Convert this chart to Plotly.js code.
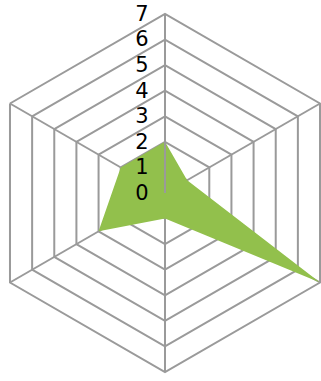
<!DOCTYPE html>
<html>
<head>
<meta charset="utf-8">
<script src="https://cdn.plot.ly/plotly-3.0.1.min.js"></script>
<style>
html,body{margin:0;padding:0;overflow:hidden;width:321px;height:381px;background:#fff;}
#chart{position:absolute;left:-44px;top:-16px;}
</style>
</head>
<body>
<div id="chart"></div>
<script>
const categories = ["A", "B", "C", "D", "E", "F"];
const values = [2, 1, 7, 1, 3, 2];
const tickValues = [0, 1, 2, 3, 4, 5, 6, 7];
const tickLabels = ["0", "1", "2", "3", "4", "5", "6", "7"];

const R = 179, M = 30;
const trace = {
  type: "scatterpolar",
  r: values.concat([values[0]]),
  theta: categories.concat([categories[0]]),
  fill: "toself",
  fillcolor: "#92c04c",
  line: {color: "#92c04c", width: 0},
  mode: "lines",
  hoverinfo: "skip"
};
const layout = {
  width: 2 * R + 2 * M,
  height: 2 * R + 2 * M,
  margin: {l: M, r: M, t: M, b: M, pad: 0},
  paper_bgcolor: "rgba(0,0,0,0)",
  plot_bgcolor: "rgba(0,0,0,0)",
  showlegend: false,
  font: {family: "DejaVu Sans", size: 20, color: "#000"},
  polar: {
    domain: {x: [0, 1], y: [0, 1]},
    bgcolor: "rgba(0,0,0,0)",
    gridshape: "linear",
    radialaxis: {
      range: [0, 7],
      tickvals: tickValues,
      ticktext: tickLabels,
      angle: 90,
      tickangle: 90,
      side: "counterclockwise",
      showline: true,
      linecolor: "#9a9a9a",
      linewidth: 2,
      gridcolor: "#9a9a9a",
      gridwidth: 2,
      ticks: "outside",
      ticklen: 8,
      tickcolor: "rgba(0,0,0,0)",
      tickfont: {family: "DejaVu Sans", size: 21, color: "#000"},
      layer: "above traces"
    },
    angularaxis: {
      type: "category",
      categoryarray: categories,
      rotation: 90,
      direction: "clockwise",
      showticklabels: false,
      ticks: "",
      showline: true,
      linecolor: "#9a9a9a",
      linewidth: 2,
      gridcolor: "#9a9a9a",
      gridwidth: 2,
      layer: "above traces"
    }
  }
};
Plotly.newPlot("chart", [trace], layout, {displayModeBar: false, staticPlot: true});
</script>
</body>
</html>
